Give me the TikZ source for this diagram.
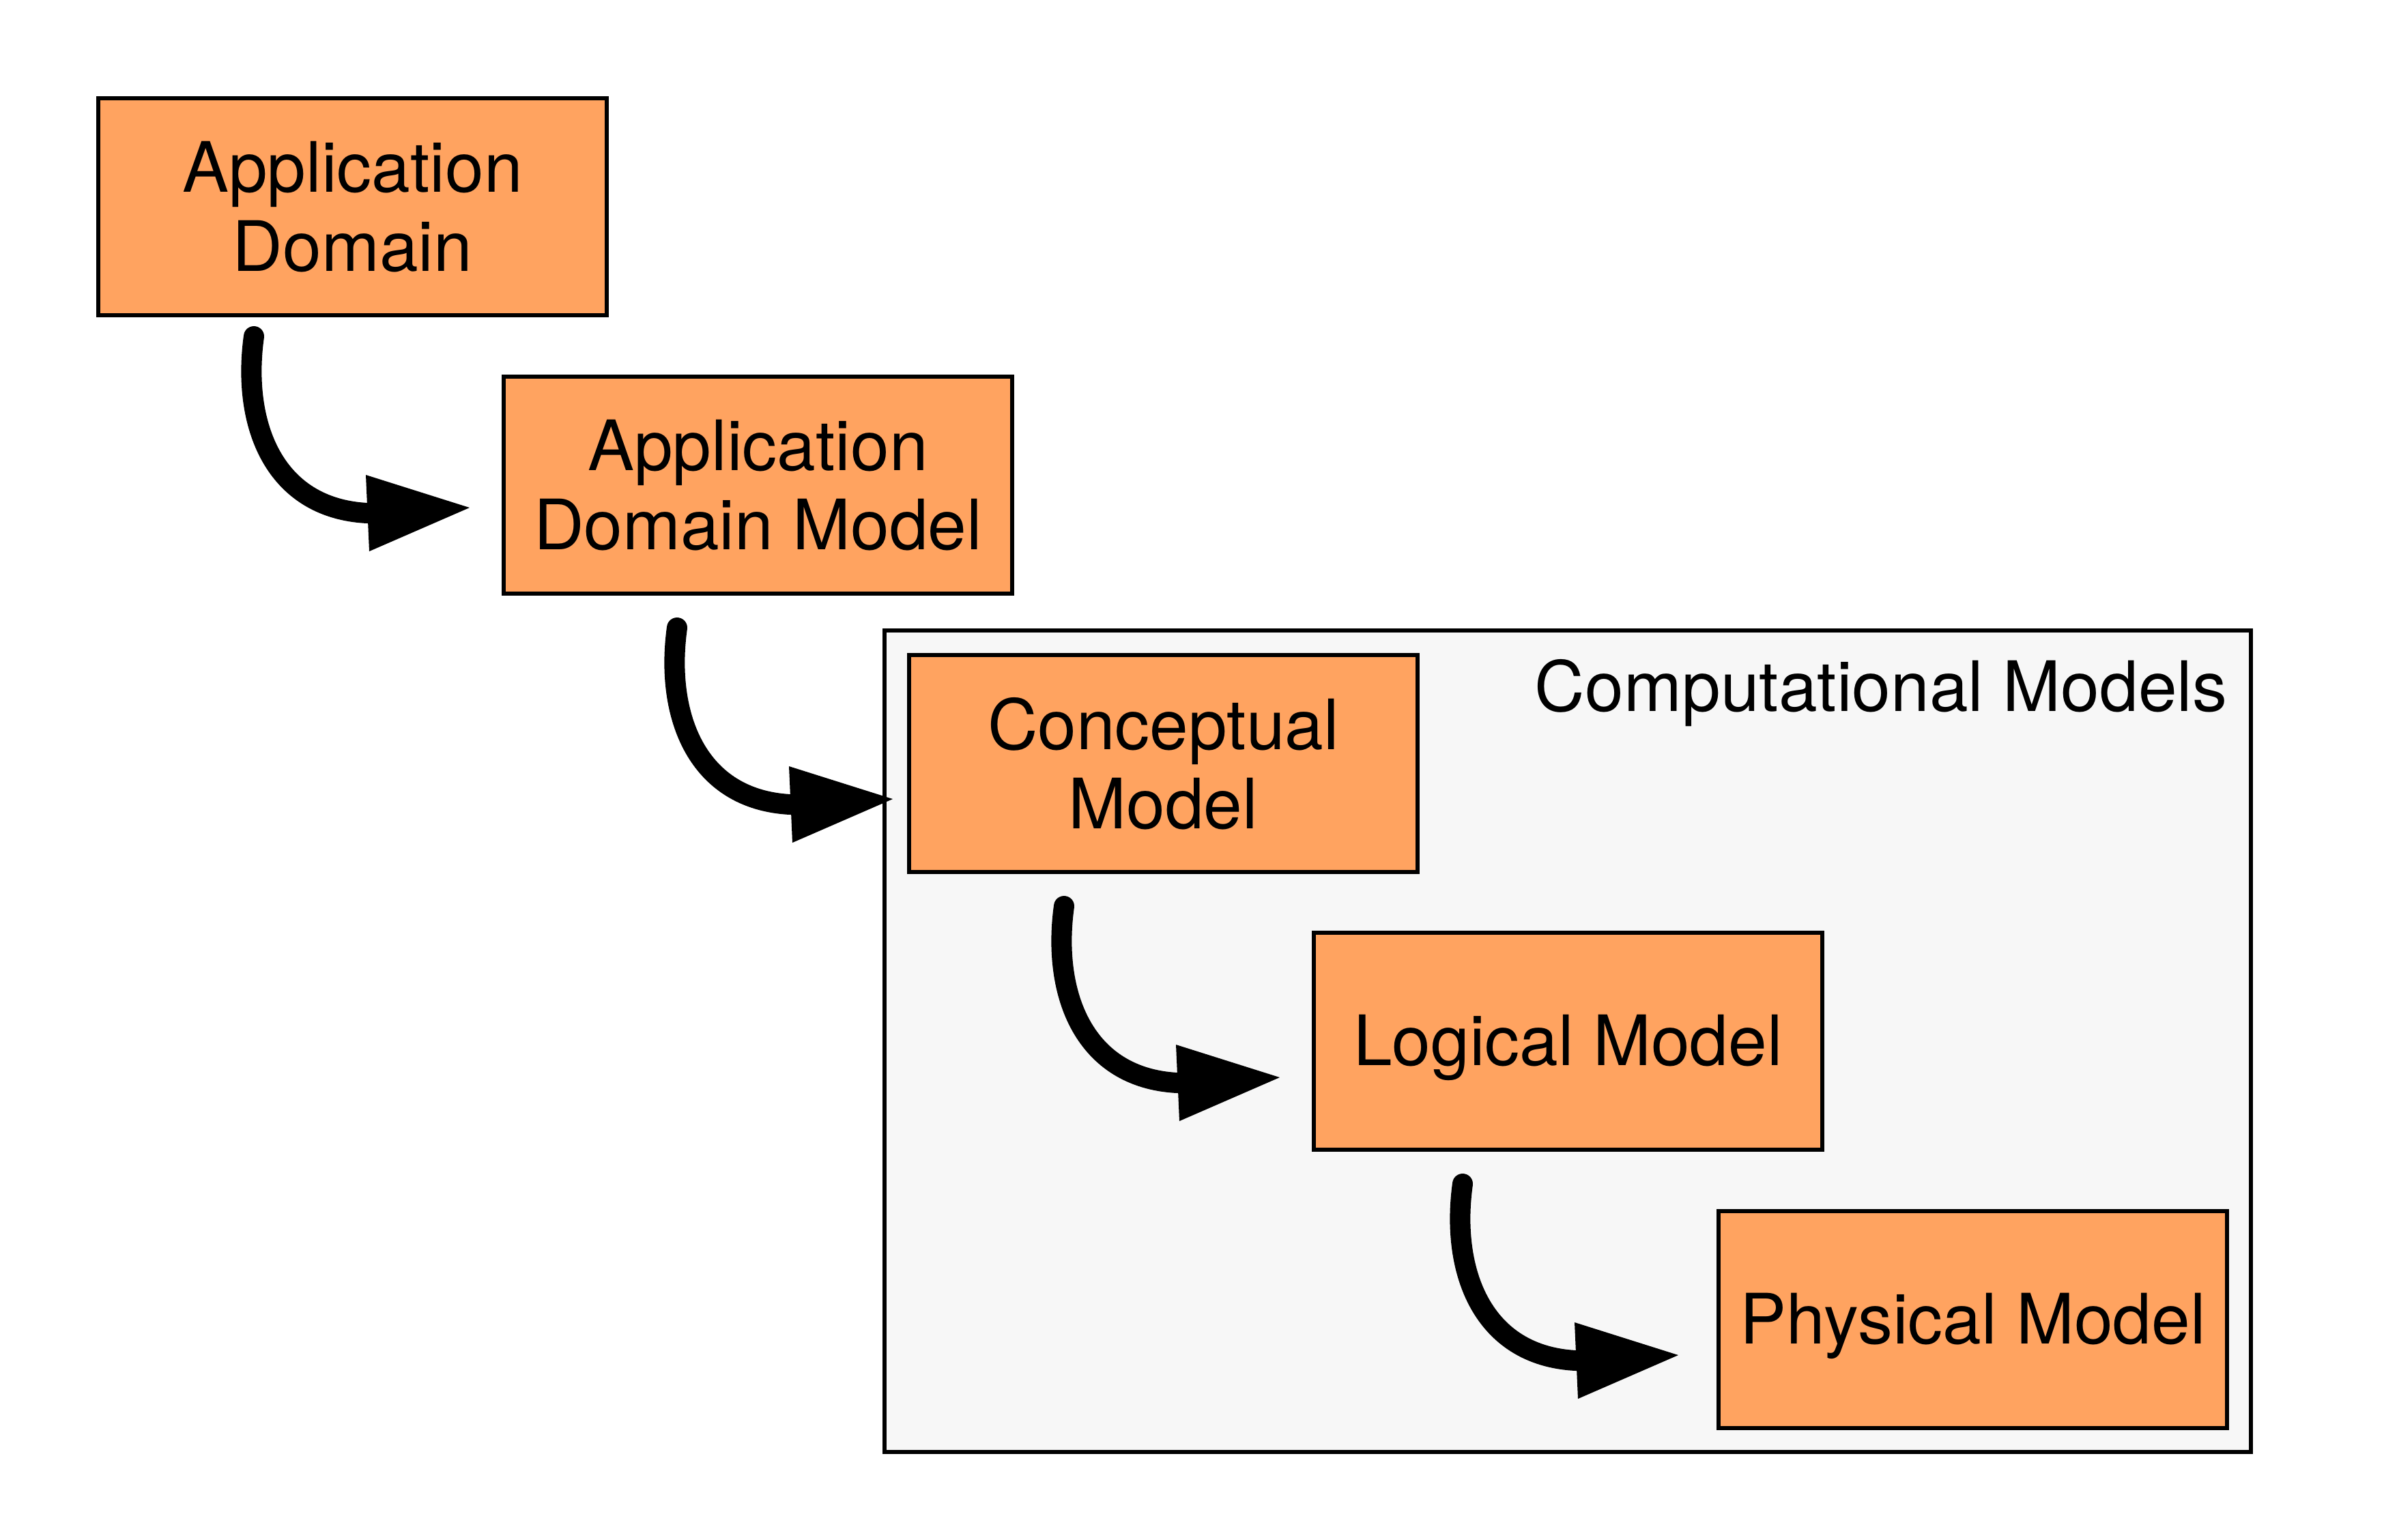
\documentclass[tikz,border=0pt]{standalone}
\usepackage{fontspec}
\setmainfont{TeX Gyre Heros}
\usetikzlibrary{arrows.meta,calc}
\definecolor{boxorange}{RGB}{255,163,96}
\definecolor{groupgray}{RGB}{247,247,247}
\tikzset{
  modelbox/.style={draw=black, fill=boxorange, line width=0.6mm, minimum width=7.45cm, minimum height=3.18cm,
    inner sep=0pt, align=center, font=\fontsize{29}{33}\selectfont, anchor=north west},
  oneline/.style={text depth=0.03cm},
  groupbox/.style={draw=black, fill=groupgray, line width=0.6mm, minimum width=20.02cm, minimum height=12.04cm,
    inner sep=0pt, anchor=north west},
  grouplabel/.style={font=\fontsize{29}{33}\selectfont, inner sep=0pt, anchor=base east},
  flow/.style={line width=3mm, line cap=round},
  flowhead/.style={fill=black, draw=none}
}
\begin{document}
\begin{tikzpicture}
\useasboundingbox (0,0) rectangle (34.93,-22.56);
\node[groupbox] (cm) at (12.93,-9.21) {};
\node[grouplabel] (cml) at ([shift={(-0.37,-1.21)}]cm.north east) {Computational Models};
\node[modelbox] (b1) at (1.41,-1.41) {Application\\Domain};
\node[modelbox] (b2) at (7.35,-5.49) {Application\\Domain Model};
\node[modelbox] (b3) at (13.29,-9.57) {Conceptual\\Model};
\node[modelbox, oneline] (b4) at (19.22,-13.64) {Logical Model};
\node[modelbox, oneline] (b5) at (25.15,-17.72) {Physical Model};
\coordinate (s1) at (3.72,-4.93);
\coordinate (s2) at (9.92,-9.20);
\coordinate (s3) at (15.59,-13.28);
\coordinate (s4) at (21.43,-17.35);
\foreach \i in {1,2,3,4}{
  \coordinate (e\i) at ($(s\i)+(1.66,-2.59)$);
  \coordinate (t\i) at ($(e\i)+(1.50,0.08)$);
  \draw[flow] (s\i) .. controls +(-0.18,-1.30) and +(-1.36,0.07) .. (e\i);
  \fill[flowhead] (t\i) -- ($(e\i)+(-0.02,0.56)$) -- ($(e\i)+(0.03,-0.56)$) -- cycle;
}
\end{tikzpicture}
\end{document}
